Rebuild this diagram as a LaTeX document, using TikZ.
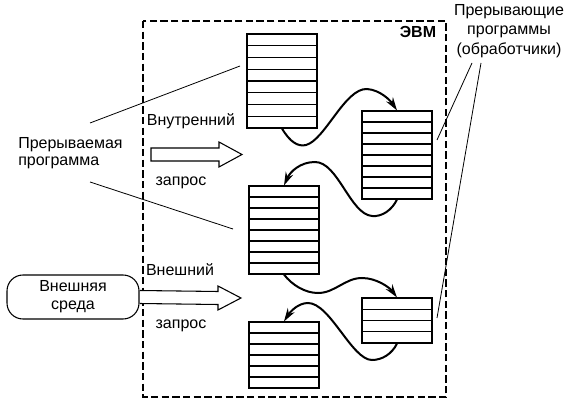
\documentclass[tikz,border=0pt]{standalone}
\usepackage{fontspec}
\setmainfont{Liberation Sans}
\usetikzlibrary{arrows.meta,fit,calc}
\newcommand\mystack[5]{%
  \coordinate (#1-nw) at (#2,#3);
  \coordinate (#1-se) at (#2+70,#4);
  \node[stackbox, fit=(#1-nw)(#1-se)] (#1) {};
  \pgfmathtruncatemacro\nrowsm{#5-1}%
  \foreach \i in {1,...,\nrowsm}{%
    \pgfmathsetmacro\rowy{#3+\i*(#4-#3)/#5}%
    \draw[stackline] (#2,\rowy) -- (#2+70,\rowy);
  }%
}
\begin{document}
\begin{tikzpicture}[x=0.75pt,y=-0.75pt,
  lbl/.style={font=\fontsize{12}{13}\selectfont, inner sep=0pt},
  stackbox/.style={draw, line width=0.8pt, inner sep=0pt},
  stackline/.style={line width=0.8pt},
  frame/.style={line width=1.6pt, dash pattern=on 5.5pt off 2.5pt},
  flow/.style={line width=1.5pt, -{Stealth[length=10pt,width=6pt]}},
  pointer/.style={line width=0.6pt},
  bigarrow/.style={draw, line width=0.8pt, fill=white},
  envbox/.style={draw, line width=0.8pt, rounded corners=12pt, minimum width=99pt, minimum height=33pt, inner sep=0pt, align=center, font=\fontsize{12}{13.5}\selectfont}
]
\useasboundingbox (0,0) rectangle (568,406);

% frame
\draw[frame] (143,21) rectangle (446,397);
\node[lbl, font=\fontsize{12}{13}\selectfont\bfseries] (evm) at (418,32) {ЭВМ};

% stacks
\mystack{s1}{247}{34}{128}{8}
\mystack{s2}{362}{111}{199}{8}
\mystack{s3}{249}{186}{274}{8}
\mystack{s4}{362}{298}{343}{4}
\mystack{s5}{249}{322}{388}{6}

% flows
\draw[flow] (s1.south) .. controls (290,142) and (298,147) .. (306,145)
  .. controls (325,140) and (345,88) .. (367,89)
  .. controls (380,90) and (390,100) .. (s2.north);
\draw[flow] (s2.south) .. controls (392,210) and (382,217) .. (372,216)
  .. controls (350,214) and (338,162) .. (315,162)
  .. controls (300,162) and (290,172) .. (s3.north);
\draw[flow] (s3.south) .. controls (292,285) and (305,293) .. (318,293)
  .. controls (335,293) and (345,278) .. (362,278)
  .. controls (377,278) and (390,288) .. (s4.north);
\draw[flow] (s4.south) .. controls (392,354) and (382,360) .. (372,360)
  .. controls (352,360) and (330,303) .. (308,303)
  .. controls (298,303) and (290,312) .. (s5.north);

% labels
\node[lbl, align=left, font=\fontsize{12}{12.75}\selectfont, anchor=west] (prog) at (18,153) {Прерываемая\\программа};
\node[lbl, align=center, font=\fontsize{12}{14.5}\selectfont] (handlers) at (509,31) {Прерывающие\\программы\\(обработчики)};
\node[lbl] (internal) at (191,121) {Внутренний};
\node[lbl] (req1) at (181,183) {запрос};
\node[lbl] (external) at (180,270) {Внешний};
\node[lbl] (req2) at (181,326) {запрос};

% pointer lines
\coordinate (p1a) at (90,123);
\coordinate (p1b) at (240,66);
\coordinate (p2a) at (90,182);
\coordinate (p2b) at (233,229);
\coordinate (h1a) at (472,63);
\coordinate (h1b) at (437,140);
\coordinate (h2a) at (481,63);
\coordinate (h2b) at (437,318);
\draw[pointer] (p1a) -- (p1b);
\draw[pointer] (p2a) -- (p2b);
\draw[pointer] (h1a) -- (h1b);
\draw[pointer] (h2a) -- (h2b);

% internal request arrow
\coordinate (tip1) at (242,154.5);
\draw[bigarrow] (151,148) -- (219,148) -- (219,142) -- (tip1) -- (219,167) -- (219,161) -- (151,161) -- cycle;

% external environment
\node[envbox] (env) at (73,297) {Внешняя\\среда};
\coordinate (tip2) at (241,298);
\fill[white] ($(env.east)+(0.8,-6.5)$) -- (218,291.5) -- (218,286) -- (tip2) -- (218,310) -- (218,304.5) -- ($(env.east)+(0.8,6.5)$) -- cycle;
\draw[line width=0.8pt] ($(env.east)+(0,-6.5)$) -- (218,291.5) -- (218,286) -- (tip2) -- (218,310) -- (218,304.5) -- ($(env.east)+(0,6.5)$);
\end{tikzpicture}
\end{document}
